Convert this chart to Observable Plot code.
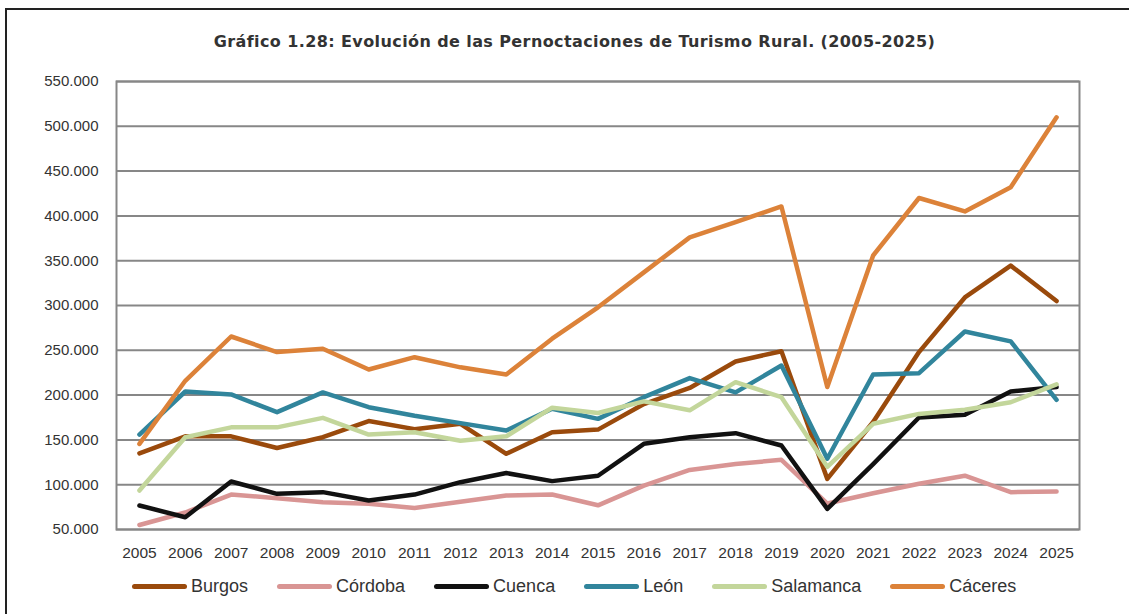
<!DOCTYPE html>
<html>
<head>
<meta charset="utf-8">
<script src="https://cdn.jsdelivr.net/npm/d3@7"></script>
<script src="https://cdn.jsdelivr.net/npm/@observablehq/plot@0.6"></script>
<style>
  html, body { margin: 0; padding: 0; background: #fff; width: 1129px; height: 614px; overflow: hidden; }
  #frame { position: absolute; left: 5px; top: 8px; width: 1140px; height: 700px; border-left: 2px solid #222; border-top: 2px solid #222; z-index: 10; pointer-events: none; }
  #title { position: absolute; left: 0; width: 1149px; top: 32px; text-align: center; font-family: "DejaVu Sans", Verdana, sans-serif; font-weight: bold; font-size: 16px; letter-spacing: 0.4px; color: #333; white-space: nowrap; }
  #chart { position: absolute; left: 0; top: 60px; }
  #legend { position: absolute; left: 132px; top: 576px; display: flex; align-items: center; font-family: "Liberation Sans", Arial, sans-serif; font-size: 18px; color: #333; white-space: nowrap; z-index: 5; }
  .item { display: flex; align-items: center; margin-right: 29px; }
  .sw { width: 55px; height: 5px; border-radius: 3px; margin-right: 4px; }
</style>
</head>
<body>
<div id="frame"></div>
<div id="title">Gráfico 1.28: Evolución de las Pernoctaciones de Turismo Rural. (2005-2025)</div>
<div id="chart"></div>
<div id="legend"></div>
<script>
const years = [2005,2006,2007,2008,2009,2010,2011,2012,2013,2014,2015,2016,2017,2018,2019,2020,2021,2022,2023,2024,2025];
const seriesNames = ["Burgos", "Córdoba", "Cuenca", "León", "Salamanca", "Cáceres"];
const seriesColors = ["#9a4a0c", "#d99594", "#111111", "#31859c", "#c3d69b", "#dc8239"];
const burgos    = [135000,154000,154000,141000,153000,171000,162000,168000,134500,158500,161500,190000,208000,237500,249000,106500,170000,248000,309000,344500,305000];
const cordoba   = [55000,69000,89000,85000,80500,78700,74000,81000,88000,89000,77000,99000,116500,123000,127800,79000,90500,101000,110000,91700,92400];
const cuenca    = [76800,63700,103600,89800,91700,82400,89000,102800,113000,104000,110000,145600,153000,157500,143700,73000,123000,175000,178000,204000,209000];
const leon      = [156000,204000,200700,181000,203000,186500,177000,168700,160500,184700,173500,197700,219000,203000,233000,129000,223000,224500,271000,260000,194700];
const salamanca = [93500,153000,164000,164000,174600,156000,158600,149000,154000,186000,180000,193000,183000,214400,197700,120000,168000,179000,183600,192000,212000];
const caceres   = [145600,216000,265400,248000,251700,228600,242300,231000,223000,263000,298000,337000,376000,393000,410500,209000,355800,420000,405000,432000,510000];
const yTicks = [50000,100000,150000,200000,250000,300000,350000,400000,450000,500000,550000];

const allValues = [burgos, cordoba, cuenca, leon, salamanca, caceres];
const data = [];
seriesNames.forEach((name, i) => {
  years.forEach((y, j) => data.push({series: name, year: y, value: allValues[i][j]}));
});

const fmt = d3.formatLocale({decimal: ",", thousands: ".", grouping: [3], currency: ["", "€"]}).format(",");

const chart = Plot.plot({
  width: 1129,
  height: 510,
  marginTop: 21,
  marginBottom: 41,
  marginLeft: 116,
  marginRight: 50,
  style: {fontFamily: "'Liberation Sans', Arial, sans-serif", color: "#333", background: "transparent"},
  x: {type: "linear", domain: [years[0] - 0.5, years[years.length - 1] + 0.5]},
  y: {domain: [50000, 550000]},
  color: {domain: seriesNames, range: seriesColors},
  marks: [
    Plot.ruleY(yTicks, {stroke: "#878787", strokeWidth: 2}),
    Plot.frame({stroke: "#878787", strokeWidth: 2}),
    Plot.axisY({ticks: yTicks, tickSize: 0, tickPadding: 18, tickFormat: fmt, fontSize: 15, fill: "#333", label: null}),
    Plot.axisX({ticks: years, tickSize: 0, tickPadding: 17, tickFormat: d => String(d), fontSize: 15.5, fill: "#333", label: null}),
    Plot.line(data, {x: "year", y: "value", z: "series", stroke: "series", strokeWidth: 4.5, strokeLinejoin: "round", strokeLinecap: "round"})
  ]
});
document.getElementById("chart").appendChild(chart);

const legend = document.getElementById("legend");
seriesNames.forEach((name, i) => {
  const item = document.createElement("div");
  item.className = "item";
  const sw = document.createElement("span");
  sw.className = "sw";
  sw.style.background = seriesColors[i];
  const label = document.createElement("span");
  label.textContent = name;
  item.appendChild(sw);
  item.appendChild(label);
  legend.appendChild(item);
});
</script>
</body>
</html>
